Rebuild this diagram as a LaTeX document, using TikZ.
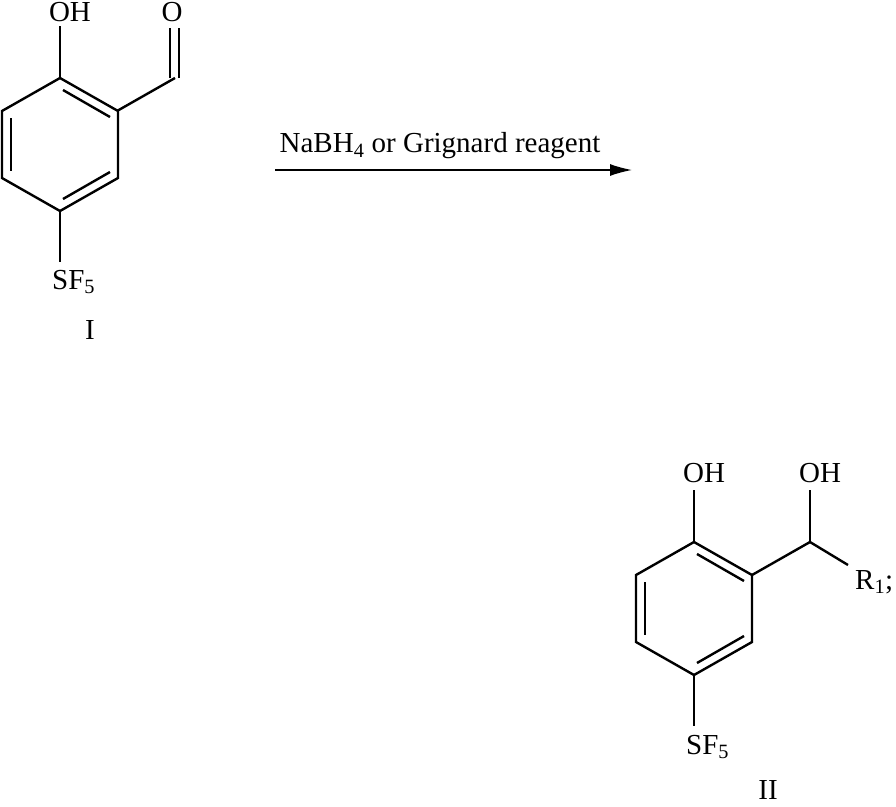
\documentclass[tikz,border=0pt]{standalone}
\usepackage{fontspec}
\setmainfont{Liberation Serif}
\usetikzlibrary{arrows.meta}
\begin{document}
\begin{tikzpicture}[x=1pt,y=-1pt,line width=2.4pt,
  lbl/.style={inner sep=0pt,font=\fontsize{29}{32}\selectfont}]
\useasboundingbox (0,0) rectangle (896,806);
\newcommand{\myring}[2]{%
  \begin{scope}[shift={(#1,#2)}]
  \coordinate (t) at (0,0); \coordinate (ur) at (58,33); \coordinate (lr) at (58,100);
  \coordinate (b) at (0,133); \coordinate (ll) at (-58,100); \coordinate (ul) at (-58,33);
  \draw (t)--(ur)--(lr)--(b)--(ll)--(ul)--cycle;
  \draw (-49,40)--(-49,93);
  \draw (3,12)--(50,39);
  \draw (3,121)--(50,94);
  \end{scope}}
% I
\myring{60}{78}
\node[lbl] (oh1) at (70,12) {OH};
\draw (60,78)--(60,26);
\coordinate (c1) at (175,78);
\draw (117,111)--(c1);
\node[lbl] (o1) at (172,12) {O};
\draw (170,78)--(170,28);
\draw (179,78)--(179,28);
\node[lbl,anchor=west] (sf1) at (51,282) {SF\textsubscript{5}};
\draw (60,211)--(60,262);
\node[lbl] (n1) at (90,330) {I};
% arrow
\coordinate (a1) at (275,170); \coordinate (a2) at (632,170);
\draw[line width=1.4pt,-{Latex[length=22pt,width=12pt]}] (a1)--(a2);
\node[lbl] (rg) at (440,146) {NaBH\textsubscript{4} or Grignard reagent};
% II
\myring{694}{542}
\node[lbl] (oh2) at (704,473) {OH};
\draw (694,542)--(694,490);
\coordinate (ch) at (810,542);
\draw (752,575)--(ch);
\node[lbl] (oh3) at (820,473) {OH};
\draw (ch)--(810,490);
\node[lbl,anchor=west] (r1) at (854,582) {R\textsubscript{1};};
\draw (ch)--(848,565);
\node[lbl,anchor=west] (sf2) at (685,747) {SF\textsubscript{5}};
\draw (694,675)--(694,726);
\node[lbl] (n2) at (768,790) {II};
\end{tikzpicture}
\end{document}
